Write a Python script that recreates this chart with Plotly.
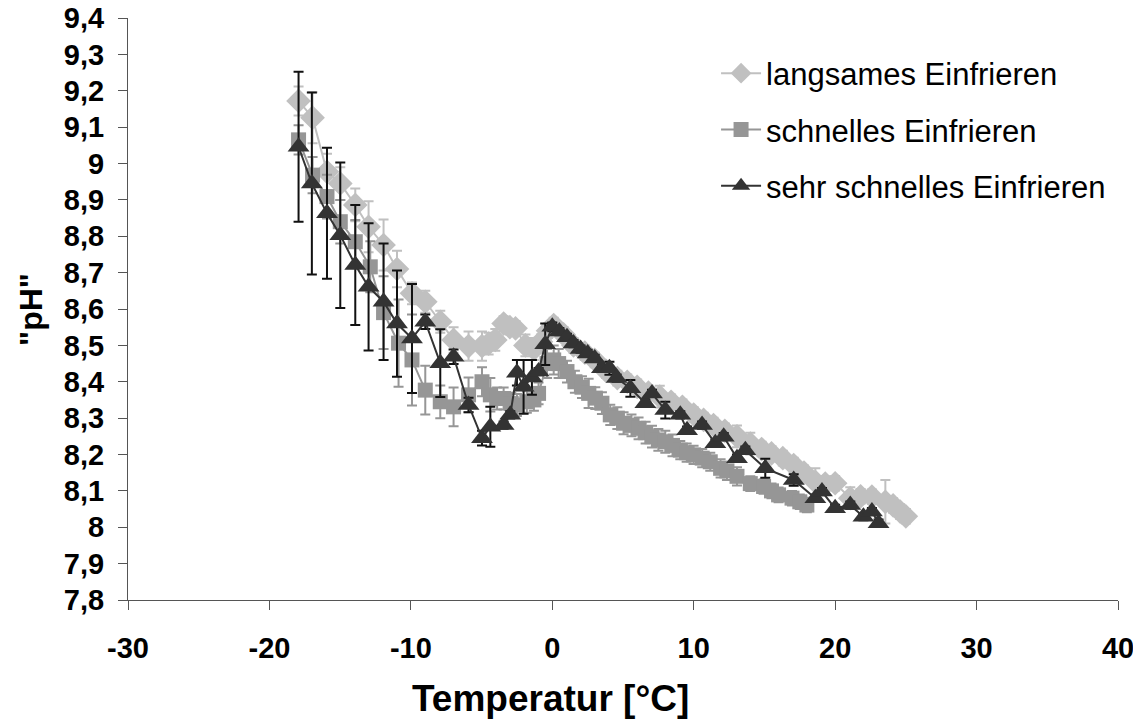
import plotly.graph_objects as go

# ---- data: langsames Einfrieren ----
t_slow = [-17.94, -16.95, -15.93, -14.99, -13.93, -12.99, -11.93, -10.98, -9.92, -8.98,
          -7.92, -6.98, -5.92, -4.97, -4.5, -4.03, -3.44, -3.0, -2.6, -1.9, -1.3, -0.8,
          -0.3, 0.1, 0.8, 1.5, 2.3, 3.0, 3.8, 4.6, 5.3, 6.0, 6.8, 7.6, 8.4, 9.2, 10.0,
          10.7, 11.4, 12.2, 13.06, 14.0, 14.8, 15.5, 16.3, 17.07, 17.8, 18.6, 19.3,
          20.0, 21.07, 21.8, 22.6, 23.55, 24.1, 24.6, 25.0]
ph_slow = [9.172, 9.126, 8.977, 8.945, 8.886, 8.826, 8.776, 8.71, 8.643, 8.62,
           8.565, 8.515, 8.498, 8.498, 8.505, 8.515, 8.56, 8.55, 8.547, 8.50, 8.49, 8.51,
           8.54, 8.556, 8.53, 8.50, 8.48, 8.46, 8.43, 8.41, 8.40, 8.386, 8.37, 8.359, 8.345, 8.331, 8.31,
           8.295, 8.281, 8.265, 8.25, 8.23, 8.215, 8.203, 8.19, 8.171, 8.15, 8.125, 8.12,
           8.121, 8.08, 8.085, 8.084, 8.07, 8.06, 8.043, 8.03]
err_slow = [0.04, 0.07, 0.05, 0.045, 0.045, 0.07, 0.07, 0.05, 0.03, 0.03,
            0.03, 0.035, 0.04, 0.04, 0.03, 0.03, 0.02, 0.02, 0.02, 0.03, 0.03, 0.02,
            0.02, 0.02, 0.02, 0.02, 0.02, 0.02, 0.02, 0.02, 0.02, 0.02, 0.02, 0.03, 0.02, 0.02, 0.02,
            0.02, 0.02, 0.02, 0.03, 0.03, 0.02, 0.02, 0.02, 0.02, 0.02, 0.037, 0.02,
            0.02, 0.03, 0.02, 0.02, 0.06, 0.02, 0.02, 0.02]

# ---- data: schnelles Einfrieren ----
t_fast = [-17.94, -16.95, -15.93, -14.99, -13.93, -12.87, -11.93, -10.87, -9.92, -8.98,
          -7.92, -6.98, -5.92, -4.97, -4.38, -3.9, -3.44, -2.9, -2.5, -1.8, -1.3, -0.97,
          -0.37, 0.1, 0.45, 1.04, 1.6, 2.1, 2.57, 3.04, 3.51, 4.1, 4.6, 5.04, 5.6, 6.1,
          6.6, 7.05, 7.5, 7.99, 8.5, 9.05, 9.5, 9.99, 10.6, 11.17, 11.9, 12.35, 13.06,
          14.0, 14.94, 15.5, 16.0, 16.95, 17.5, 18.0]
ph_fast = [9.065, 8.968, 8.909, 8.84, 8.785, 8.716, 8.59, 8.506, 8.46, 8.377,
           8.345, 8.331, 8.364, 8.40, 8.364, 8.354, 8.354, 8.34, 8.336, 8.345, 8.35, 8.368,
           8.45, 8.46, 8.45, 8.428, 8.40, 8.385, 8.368, 8.355, 8.341, 8.309, 8.30, 8.286, 8.28, 8.272,
           8.26, 8.249, 8.24, 8.235, 8.225, 8.212, 8.205, 8.199, 8.19, 8.18, 8.162, 8.155, 8.14,
           8.12, 8.112, 8.10, 8.089, 8.08, 8.07, 8.061]
err_fast = [0.04, 0.05, 0.06, 0.06, 0.06, 0.07, 0.10, 0.12, 0.125, 0.067,
            0.045, 0.053, 0.048, 0.04, 0.046, 0.03, 0.03, 0.03, 0.03, 0.03, 0.03, 0.03,
            0.04, 0.04, 0.04, 0.03, 0.03, 0.03, 0.04, 0.03, 0.03, 0.028, 0.03, 0.03, 0.03, 0.03,
            0.03, 0.03, 0.03, 0.03, 0.03, 0.025, 0.025, 0.025, 0.025, 0.025, 0.025, 0.025, 0.025,
            0.02, 0.02, 0.02, 0.02, 0.02, 0.02, 0.02]

# ---- data: sehr schnelles Einfrieren ----
t_vfast = [-17.94, -17.0, -15.93, -14.99, -13.93, -12.99, -11.93, -10.98, -9.92, -8.98,
           -7.92, -6.98, -5.92, -4.97, -4.38, -3.44, -2.97, -2.5, -2.03, -1.44, -0.97, -0.5,
           0.0, 0.5, 1.04, 1.5, 2.0, 2.5, 3.0, 3.51, 4.04, 4.55, 5.52, 6.58, 7.05, 7.99,
           9.05, 9.53, 10.59, 11.53, 12.12, 13.06, 13.65, 15.06, 17.07, 18.6, 19.07, 20.0,
           21.07, 22.0, 22.6, 23.07]
ph_vfast = [9.046, 8.945, 8.863, 8.803, 8.721, 8.661, 8.62, 8.56, 8.519, 8.565,
            8.451, 8.469, 8.336, 8.245, 8.276, 8.281, 8.309, 8.425, 8.386, 8.412, 8.428, 8.503,
            8.551, 8.538, 8.522, 8.505, 8.49, 8.478, 8.464, 8.437, 8.437, 8.41, 8.382, 8.341, 8.368, 8.322,
            8.309, 8.267, 8.281, 8.231, 8.249, 8.19, 8.212, 8.162, 8.13, 8.08, 8.098, 8.052,
            8.061, 8.029, 8.043, 8.011]
err_vfast = [0.206, 0.25, 0.18, 0.2, 0.165, 0.175, 0.16, 0.146, 0.15, 0.02,
             0.093, 0.02, 0.02, 0.02, 0.055, 0.01, 0.01, 0.035, 0.074, 0.048, 0.01, 0.057,
             0.012, 0.01, 0.01, 0.01, 0.01, 0.01, 0.01, 0.01, 0.018, 0.01, 0.023, 0.01, 0.01, 0.023,
             0.01, 0.01, 0.01, 0.01, 0.01, 0.01, 0.01, 0.026, 0.016, 0.01, 0.01, 0.01,
             0.01, 0.01, 0.01, 0.01]

series_names = ["langsames Einfrieren", "schnelles Einfrieren", "sehr schnelles Einfrieren"]

y_tickvals = [7.8, 7.9, 8.0, 8.1, 8.2, 8.3, 8.4, 8.5, 8.6, 8.7, 8.8, 8.9, 9.0, 9.1, 9.2, 9.3, 9.4]
y_ticktext = ["7,8", "7,9", "8", "8,1", "8,2", "8,3", "8,4", "8,5", "8,6", "8,7", "8,8", "8,9",
              "9", "9,1", "9,2", "9,3", "9,4"]
x_tickvals = [-30, -20, -10, 0, 10, 20, 30, 40]
x_ticktext = ["-30", "-20", "-10", "0", "10", "20", "30", "40"]

FONT = "Liberation Sans, Arial, sans-serif"

fig = go.Figure()

fig.add_trace(go.Scatter(
    x=t_slow, y=ph_slow, name=series_names[0], mode="lines+markers",
    line=dict(color="#C0C0C0", width=2),
    marker=dict(symbol="diamond", size=19, color="#C0C0C0"),
    error_y=dict(type="data", array=err_slow, color="#C0C0C0", thickness=2, width=5),
    legendgroup="a",
))
fig.add_trace(go.Scatter(
    x=t_fast, y=ph_fast, name=series_names[1], mode="lines+markers",
    line=dict(color="#969696", width=2),
    marker=dict(symbol="square", size=15, color="#969696"),
    error_y=dict(type="data", array=err_fast, color="#969696", thickness=2, width=5),
    legendgroup="b",
))
fig.add_trace(go.Scatter(
    x=t_vfast, y=ph_vfast, name=series_names[2], mode="lines+markers",
    line=dict(color="#333333", width=2),
    marker=dict(symbol="triangle-up", size=19, color="#333333"),
    error_y=dict(type="data", array=err_vfast, color="#111111", thickness=2, width=5),
    legendgroup="c",
))

# page body has an 8px margin: figure is sized/offset so the plot area lands at 128..1118 x 18..600
fig.update_layout(
    width=1133, height=719,
    margin=dict(l=120, r=23, t=10, b=127),
    paper_bgcolor="white", plot_bgcolor="white",
    font=dict(family=FONT, color="black"),
    showlegend=True,
    legend=dict(
        x=0.594, y=0.951, xanchor="left", yanchor="top",
        font=dict(family=FONT, size=31, color="black"),
        bgcolor="rgba(0,0,0,0)", itemwidth=40,
        traceorder="grouped", tracegroupgap=13,
    ),
    xaxis=dict(
        range=[-30, 40], tickvals=x_tickvals, ticktext=x_ticktext,
        showgrid=False, zeroline=False, showline=True, linecolor="#555555", linewidth=1,
        ticks="outside", ticklen=9, tickcolor="#555555",
        tickfont=dict(family=FONT, size=29, color="black", weight="bold"),
        ticklabelstandoff=13, automargin=False, ticklabeloverflow="allow",
    ),
    yaxis=dict(
        range=[7.8, 9.4], tickvals=y_tickvals, ticktext=y_ticktext,
        showgrid=False, zeroline=False, showline=True, linecolor="#555555", linewidth=1,
        ticks="outside", ticklen=9, tickcolor="#555555",
        tickfont=dict(family=FONT, size=29, color="black", weight="bold"),
        ticklabelstandoff=8, automargin=False, ticklabeloverflow="allow",
    ),
    annotations=[
        dict(text="Temperatur [°C]", xref="paper", yref="paper", x=0.427, y=-0.17,
             xanchor="center", yanchor="middle", showarrow=False,
             font=dict(family=FONT, size=37, color="black", weight="bold")),
        dict(text='"pH"', xref="paper", yref="paper", x=-0.098, y=0.5, textangle=-90,
             xanchor="center", yanchor="middle", showarrow=False,
             font=dict(family=FONT, size=32, color="black", weight="bold")),
    ],
)

fig.write_html("out.html")
